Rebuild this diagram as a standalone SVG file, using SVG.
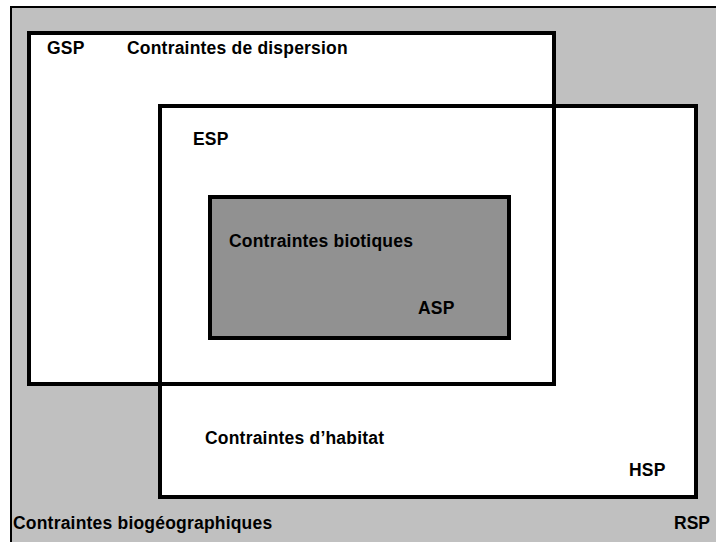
<svg xmlns="http://www.w3.org/2000/svg" width="716" height="542" viewBox="0 0 716 542">
<style>
text{font-family:"Liberation Sans",Arial,sans-serif;font-weight:bold;font-size:17.5px;letter-spacing:0.2px;fill:#000}
.box{fill:#fff;stroke:#000;stroke-width:4}
.line{fill:none;stroke:#000;stroke-width:4}
</style>
<rect width="716" height="542" fill="#fff"/>
<g id="RSP">
<rect x="11" y="7" width="720" height="550" fill="#c0c0c0" stroke="#000" stroke-width="2"/>
<text x="13" y="529">Contraintes biogéographiques</text>
<text x="674" y="529" style="letter-spacing:0">RSP</text>
</g>
<g id="GSP">
<rect class="box" x="29" y="33" width="525" height="351"/>
<text x="47" y="54">GSP</text>
<text x="127" y="54">Contraintes de dispersion</text>
</g>
<g id="HSP">
<rect class="box" x="160" y="106" width="536" height="391"/>
<text x="205" y="444">Contraintes d’habitat</text>
<text x="629" y="476">HSP</text>
</g>
<g id="ESP">
<rect class="line" x="29" y="33" width="525" height="351"/>
<text x="193" y="145">ESP</text>
</g>
<g id="ASP">
<rect x="210" y="197" width="299" height="141" fill="#919191" stroke="#000" stroke-width="4"/>
<text x="229" y="247">Contraintes biotiques</text>
<text x="418" y="314">ASP</text>
</g>
<g id="connectors"></g>
</svg>
